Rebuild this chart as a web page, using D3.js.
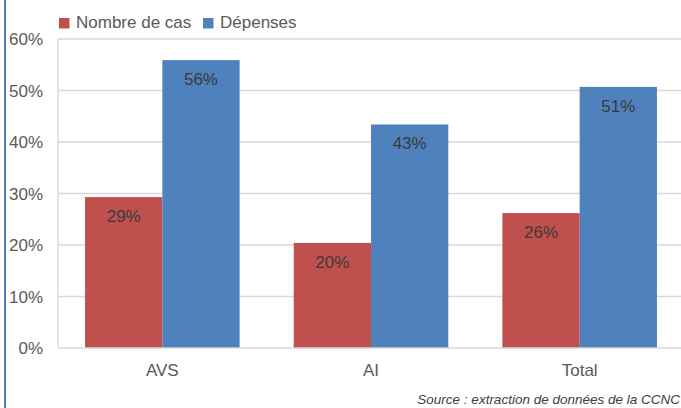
<!DOCTYPE html>
<html><head><meta charset="utf-8">
<script src="https://cdn.jsdelivr.net/npm/d3@7"></script>
<style>
html,body{margin:0;padding:0;background:#fff;overflow:hidden;}
svg{display:block;font-family:"Liberation Sans",Arial,sans-serif;}
</style></head>
<body>
<svg id="chart" width="681" height="408"></svg>
<script>
const categories = ["AVS", "AI", "Total"];
const seriesNames = ["Nombre de cas", "Dépenses"];
const nombreDeCas = [0.293, 0.204, 0.262];
const depenses = [0.559, 0.434, 0.507];
const dataLabels = [["29%", "20%", "26%"], ["56%", "43%", "51%"]];
const yTicks = [0, 0.1, 0.2, 0.3, 0.4, 0.5, 0.6];
const colors = ["#c0504d", "#4f81bd"];
const sourceText = "Source : extraction de données de la CCNC";

const series = [nombreDeCas, depenses];
const svg = d3.select("#chart");
const W = 681, H = 408;
const plot = {left: 58, right: 684, top: 39, bottom: 348};

// left decorative blue border
svg.append("rect").attr("x", 4).attr("y", 0).attr("width", 2).attr("height", H).attr("fill", "#4f81bd");

const x = d3.scaleBand().domain(categories).range([plot.left, plot.right]).paddingInner(0).paddingOuter(0);
const xs = d3.scaleBand().domain(d3.range(series.length)).range([0, x.bandwidth()]).paddingInner(0).paddingOuter(0.35);
const y = d3.scaleLinear().domain([0, 0.6]).range([plot.bottom, plot.top]);

const yAxis = d3.axisLeft(y).tickValues(yTicks).tickFormat(d3.format(".0%")).tickSize(0).tickPadding(0);
const gy = svg.append("g").attr("transform", `translate(43,0)`).call(yAxis);
gy.select(".domain").remove();
gy.selectAll("text").attr("font-size", 17).attr("fill", "#595959").attr("dy", "0.35em")
  .attr("font-family", "Liberation Sans, Arial, sans-serif");

// gridlines
svg.append("g").selectAll("line").data(yTicks.filter(d => d > 0)).join("line")
  .attr("x1", plot.left).attr("x2", W).attr("y1", d => y(d)).attr("y2", d => y(d))
  .attr("stroke", "#d9d9d9").attr("stroke-width", 1.3);

// plot left border
svg.append("line").attr("x1", plot.left).attr("x2", plot.left).attr("y1", plot.top).attr("y2", plot.bottom)
  .attr("stroke", "#d9d9d9").attr("stroke-width", 1.3);

// bars
series.forEach((vals, si) => {
  const g = svg.append("g");
  g.selectAll("rect").data(vals).join("rect")
    .attr("x", (d, i) => x(categories[i]) + xs(si))
    .attr("width", xs.bandwidth())
    .attr("y", d => y(d))
    .attr("height", d => y(0) - y(d))
    .attr("fill", colors[si]);
  g.selectAll("text").data(vals).join("text")
    .attr("x", (d, i) => x(categories[i]) + xs(si) + xs.bandwidth() / 2)
    .attr("y", d => y(d) + 25)
    .attr("text-anchor", "middle")
    .attr("font-size", 17).attr("fill", "#3a3a3a")
    .text((d, i) => dataLabels[si][i]);
});

// baseline axis
svg.append("line").attr("x1", plot.left).attr("x2", W).attr("y1", y(0)).attr("y2", y(0))
  .attr("stroke", "#d9d9d9").attr("stroke-width", 1.3);

// x axis labels
const xAxis = d3.axisBottom(x).tickSize(0).tickPadding(0);
const gx = svg.append("g").attr("transform", `translate(0,${plot.bottom})`).call(xAxis);
gx.select(".domain").remove();
gx.selectAll("text").attr("font-size", 17).attr("fill", "#595959").attr("dy", null).attr("y", 28)
  .attr("font-family", "Liberation Sans, Arial, sans-serif");

// legend
const leg = svg.append("g");
const legX = [59, 203];
seriesNames.forEach((n, i) => {
  leg.append("rect").attr("x", legX[i]).attr("y", 18).attr("width", 10.5).attr("height", 10.5).attr("fill", colors[i]);
  leg.append("text").attr("x", legX[i] + 17).attr("y", 28).attr("font-size", 17).attr("fill", "#595959").text(n);
});

// source
svg.append("text").attr("x", 680).attr("y", 404).attr("text-anchor", "end")
  .attr("font-size", 13.5).attr("font-style", "italic").attr("fill", "#404040").text(sourceText);
</script>
</body></html>
